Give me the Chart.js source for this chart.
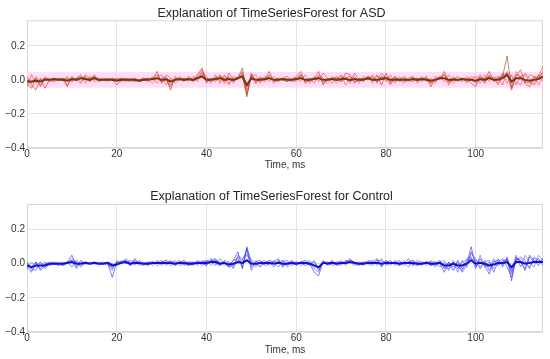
<!DOCTYPE html>
<html>
<head>
<meta charset="utf-8">
<script src="https://cdn.jsdelivr.net/npm/chart.js@4.4.0/dist/chart.umd.min.js"></script>
<style>
  html, body { margin: 0; padding: 0; background: #fff; }
  canvas { display: block; }
</style>
</head>
<body>
<canvas id="asdChart" width="550" height="179"></canvas>
<canvas id="ctlChart" width="550" height="180"></canvas>
<script>
// time axis, one sample per ms
const timeMs = Array.from({ length: 116 }, (_, i) => i);
const xTicks = [0, 20, 40, 60, 80, 100];
const yTicks = [-0.4, -0.2, 0.0, 0.2];
const asdBand = [0.046, -0.046];

// ASD explanations (red), thin brown one and mean
const asdRed1 = [
  0, -.03, -.06, .01, -.05, 0, .01, 0, 0, -.04,
  .02, 0, .01, .02, -.01, .03, 0, 0, .01, 0,
  -.03, 0, .01, 0, 0, -.01, 0, .01, 0, .05,
  -.02, .01, -.06, .02, 0, .01, 0, 0, .03, .07,
  -.01, 0, .01, .03, -.02, .04, 0, .01, .03, -.1,
  .04, -.02, .01, 0, .05, -.01, 0, .01, 0, 0,
  .02, .05, -.02, 0, .01, .05, -.03, .01, 0, .02,
  -.01, .04, .03, -.02, .01, 0, .02, -.01, .03, -.03,
  .04, -.02, .01, 0, .02, 0, -.01, .01, 0, .02,
  -.04, .01, 0, .05, -.01, 0, .02, 0, .01, -.02,
  -.04, .02, 0, .05, -.01, .01, .03, .04, -.06, .02,
  .06, -.02, -.04, .01, .02, .08
];
const asdRed2 = [
  .02, -.02, .01, -.03, .02, 0, -.01, .01, 0, .02,
  -.01, .01, .03, -.02, .02, 0, .01, 0, 0, .01,
  0, -.01, 0, .01, 0, 0, .01, 0, -.02, .02,
  .03, -.03, .01, -.01, .02, 0, 0, .01, -.01, .05,
  .02, -.02, .02, -.01, .03, -.02, .01, 0, .05, -.06,
  .02, .03, -.02, .01, -.01, .02, 0, 0, .01, -.01,
  0, .02, -.01, .01, -.02, .03, .01, -.02, .02, 0,
  .03, -.03, .01, .02, -.01, .01, 0, .03, -.02, .02,
  -.01, .03, -.02, .01, 0, -.01, .01, 0, .02, -.01,
  .01, -.02, .02, -.01, .03, -.02, 0, .01, 0, .02,
  .01, -.02, .03, -.01, .02, -.03, .04, -.02, .03, -.01,
  -.03, .04, .01, -.02, .03, -.01
];
const asdRed3 = [
  -.04, .03, -.02, 0, .01, -.01, 0, 0, .01, -.03,
  .01, 0, -.02, .03, .01, -.01, 0, .01, 0, 0,
  .01, 0, 0, -.01, .01, 0, 0, -.01, .02, -.02,
  .01, .02, -.03, 0, .01, -.01, .02, 0, .02, .06,
  -.02, .01, 0, .02, .01, -.03, .02, .01, .02, -.08,
  .03, 0, -.01, .02, .01, 0, -.01, .01, .02, 0,
  -.01, .03, 0, -.01, .02, -.01, .04, .01, -.02, .01,
  .02, .01, -.02, .04, 0, -.01, .02, .01, -.01, .04,
  .01, -.03, .02, 0, -.02, .01, .02, -.01, .01, 0,
  -.02, .02, .01, .03, -.03, .01, 0, -.01, .02, 0,
  .02, .01, -.02, .03, .01, .02, -.03, .05, .02, -.03,
  .02, .03, -.01, -.03, .01, .04
];
const asdRed4 = [
  .01, -.02, .02, -.01, 0, .01, -.01, 0, .01, 0,
  0, .01, -.01, .02, -.01, .02, 0, 0, -.01, .01,
  0, .01, -.01, 0, .01, -.01, 0, .01, 0, .01,
  -.01, .03, .01, -.02, 0, .01, -.01, .02, .01, .03,
  .01, -.01, .03, -.02, .02, .01, -.02, .02, .04, -.04,
  .01, -.02, .02, 0, .02, -.02, .01, 0, -.01, .01,
  .01, -.01, .03, -.02, .01, .02, -.01, 0, .01, -.02,
  .01, .02, -.01, .01, -.02, .02, .01, -.02, .02, .01,
  .02, .01, -.01, .02, -.01, 0, .02, -.02, .01, .01,
  0, -.01, .02, .01, -.02, .02, -.01, .01, -.02, .01,
  -.01, .03, -.02, .02, 0, -.02, .02, .03, -.04, .05,
  .01, -.02, .03, .02, -.03, .02
];
const asdBrown = [
  -.02, -.05, .01, -.04, .01, 0, 0, .01, 0, .01,
  -.01, .01, .02, 0, .01, .02, -.01, 0, 0, 0,
  0, .01, 0, 0, -.01, 0, .01, 0, .01, .03,
  -.01, 0, -.04, .01, 0, 0, .01, -.01, .01, .04,
  0, .01, -.01, .02, 0, .02, -.01, .01, .07, -.09,
  .02, 0, .01, -.01, .03, 0, .01, 0, -.01, 0,
  .01, .03, -.01, .01, 0, .02, -.02, 0, .01, .01,
  -.01, .01, .02, -.01, 0, .01, 0, .02, -.01, .02,
  .01, -.01, .02, -.01, .01, 0, 0, .01, -.01, .01,
  -.02, 0, .01, .03, -.01, .01, 0, .01, -.01, 0,
  -.02, 0, .01, .02, 0, .01, .02, .14, -.05, .03,
  .02, -.01, -.02, .02, .01, .05
];
const asdMean = [
  -.01, -.01, -.005, -.01, 0, 0, .005, 0, 0, -.005,
  .005, 0, .01, .005, 0, .01, 0, 0, 0, 0,
  -.005, 0, 0, 0, 0, -.005, 0, 0, .005, .01,
  0, .005, -.01, 0, .005, 0, .005, 0, .01, .02,
  0, 0, .005, .01, 0, .005, 0, .01, .02, -.03,
  .01, 0, 0, .005, .01, 0, 0, .005, 0, 0,
  .005, .01, 0, 0, .005, .01, 0, 0, .005, 0,
  .005, .005, 0, .005, 0, 0, .01, 0, 0, .005,
  .01, 0, 0, 0, 0, 0, .005, 0, .005, 0,
  -.005, 0, .01, .01, 0, 0, 0, .005, 0, 0,
  -.005, .005, 0, .01, 0, 0, .01, .03, -.01, .01,
  .01, 0, -.005, 0, .005, .02
];

// Control explanations (blue) and mean
const ctlBlue1 = [
  -.02, -.05, .01, -.04, -.01, 0, .01, 0, -.01, .01,
  .05, -.02, .02, 0, 0, 0, 0, .01, 0, -.08,
  .01, .01, .02, -.01, .03, 0, 0, -.01, .01, 0,
  .01, 0, .02, -.01, .01, 0, -.01, .01, 0, .01,
  -.01, .02, .03, -.01, .01, -.02, .02, .07, -.03, .1,
  -.02, .01, .02, -.01, 0, .01, .03, -.02, .01, 0,
  0, .01, -.01, 0, -.05, -.07, .01, 0, .01, 0,
  0, .01, .03, 0, .01, 0, 0, .01, .03, -.02,
  .02, 0, .01, -.01, 0, .03, -.01, .01, 0, .01,
  -.01, .01, 0, -.05, .01, -.04, .02, -.03, 0, .1,
  -.02, .03, -.01, -.06, .01, .02, -.01, .03, -.1, .04,
  .01, -.03, .05, .02, -.01, .03
];
const ctlBlue2 = [
  .01, -.03, -.04, .01, -.03, 0, 0, .01, -.01, 0,
  .03, .01, -.02, .01, 0, 0, .01, 0, 0, -.03,
  .01, 0, .03, .01, -.01, .02, 0, .01, -.01, .01,
  .02, -.01, .01, .01, 0, .02, -.01, 0, .01, -.01,
  .02, .01, -.01, .03, 0, -.02, -.01, .04, .02, .08,
  -.04, .02, -.01, 0, .02, .01, -.02, .02, -.01, .01,
  .01, 0, 0, .01, -.03, -.05, .02, -.01, 0, .01,
  .01, 0, .01, -.01, 0, .01, 0, -.01, .02, .02,
  -.01, .01, 0, .02, -.01, .01, 0, -.01, .01, 0,
  .01, -.02, .01, -.02, -.03, .01, -.05, .02, -.02, .06,
  .03, -.02, .02, -.04, .02, -.01, .02, .02, -.06, .02,
  .04, .02, -.03, .04, .02, .01
];
const ctlBlue3 = [
  -.03, .01, -.02, -.01, .01, -.01, 0, 0, 0, .01,
  .02, -.03, .01, 0, .01, 0, 0, 0, .01, 0,
  -.01, .02, 0, .02, .01, -.01, .01, 0, 0, .02,
  -.01, .01, 0, .02, -.01, 0, .01, .01, -.01, .02,
  .01, .03, 0, -.01, .02, .01, -.03, .05, .03, .06,
  .01, -.01, .01, .02, -.01, .02, 0, .01, .02, -.01,
  0, .01, .01, -.01, .02, -.03, 0, .01, -.01, 0,
  .02, -.01, .02, .01, 0, 0, .01, .02, -.01, .03,
  0, -.01, .02, 0, .01, -.02, .02, 0, -.01, .01,
  .01, .01, -.02, .01, -.04, .02, -.02, -.04, .03, .04,
  -.03, .05, -.02, .01, -.03, .03, -.02, .04, -.04, .05,
  -.02, .05, .01, -.02, .05, .02
];
const ctlBlue4 = [
  0, -.02, .01, -.03, 0, .01, 0, -.01, 0, .01,
  -.02, .02, 0, .01, 0, .01, 0, 0, 0, -.02,
  0, .01, .01, -.01, .02, 0, -.01, .01, .01, 0,
  .01, .02, -.01, 0, .02, -.01, .01, 0, .02, 0,
  -.01, .02, .02, 0, .01, -.01, .02, .03, -.02, .09,
  .02, 0, -.02, .01, .01, -.02, .02, -.01, 0, .02,
  -.01, .01, .02, 0, .01, -.04, .01, 0, .02, -.01,
  0, .02, .01, 0, -.01, .01, .01, 0, .02, -.01,
  .01, .02, -.01, .01, 0, .01, .02, -.01, 0, .01,
  -.01, 0, .02, -.03, .01, -.02, .01, -.05, -.01, .07,
  .01, -.03, .01, .02, -.05, .01, .03, -.02, -.08, .03,
  .02, -.04, .04, .01, .03, -.01
];
const ctlBlue5 = [
  .01, -.04, -.01, .01, -.02, 0, 0, 0, .01, 0,
  .02, .01, -.01, 0, 0, .01, 0, 0, 0, -.04,
  .02, 0, .02, 0, .01, .01, 0, 0, .01, -.01,
  0, .02, .01, -.01, .01, .02, 0, -.01, .01, .01,
  .02, -.01, .02, .01, -.01, .01, -.02, .02, .01, .05,
  .01, -.02, .01, 0, .02, 0, .01, .02, -.02, 0,
  .01, -.01, 0, .02, -.02, -.02, .01, .01, 0, .01,
  -.01, .01, .02, .01, 0, -.01, .02, .01, 0, .01,
  .01, 0, .01, -.01, .02, 0, -.01, .02, .01, -.01,
  .02, -.01, .01, .02, -.02, .01, -.03, .01, .02, .03,
  .02, .01, -.01, -.02, .03, -.01, .01, .03, -.05, .02,
  .03, .01, -.02, .03, .01, .03
];
const ctlMean = [
  -.01, -.02, -.01, -.01, -.01, 0, 0, 0, 0, .005,
  .01, 0, 0, .005, 0, .005, 0, 0, .005, -.01,
  -.005, .005, .01, 0, .005, .005, 0, 0, .005, .005,
  .005, .005, .005, 0, .005, .005, 0, 0, .005, .005,
  .005, .01, .01, 0, .005, -.005, 0, .01, .005, .02,
  0, 0, .005, .005, .005, 0, .005, 0, 0, .005,
  0, .005, .005, 0, -.01, -.02, .005, 0, .005, 0,
  .005, .005, .01, .005, 0, 0, .005, .005, .005, 0,
  .005, .005, .005, 0, .005, .005, .005, 0, 0, .005,
  0, 0, .005, -.01, -.01, 0, -.01, -.01, 0, .02,
  0, .005, 0, -.01, -.005, .005, .005, .01, -.02, .01,
  .01, 0, .005, .01, .01, .01
];

const FONT = "'Liberation Sans', Arial, sans-serif";
const GRID = '#e3e3e3';

const framePlugin = {
  id: 'frame',
  beforeDatasetsDraw(chart) {
    const { ctx, chartArea: a } = chart;
    ctx.save();
    ctx.strokeStyle = '#d8d8d8';
    ctx.lineWidth = 1;
    ctx.strokeRect(a.left + 0.5, a.top + 0.5, a.width - 1, a.height - 1);
    ctx.restore();
  }
};

function pts(values) {
  return values.map((v, i) => ({ x: timeMs[i], y: v }));
}

function line(values, color, width, order) {
  return {
    data: pts(values),
    borderColor: color,
    borderWidth: width,
    pointRadius: 0,
    tension: 0,
    fill: false,
    order: order
  };
}

function makeChart(id, title, datasets, lay) {
  return new Chart(document.getElementById(id), {
    type: 'line',
    data: { datasets: datasets },
    plugins: [framePlugin],
    options: {
      responsive: false,
      animation: false,
      layout: { padding: { left: 0, right: 7, top: 0, bottom: 0 } },
      plugins: {
        legend: { display: false },
        tooltip: { enabled: false },
        title: {
          display: true,
          text: title,
          color: '#262626',
          font: { family: FONT, size: 12.5, weight: 'normal', lineHeight: 1 },
          padding: { top: lay.titleTop, bottom: lay.titleBottom }
        }
      },
      scales: {
        x: {
          type: 'linear',
          min: 0,
          max: 115,
          afterBuildTicks: s => { s.ticks = xTicks.map(v => ({ value: v })); },
          afterFit: s => { s.height = lay.xHeight; },
          ticks: {
            color: '#333',
            font: { family: FONT, size: 10 },
            padding: 0,
            maxRotation: 0,
            callback: v => String(v)
          },
          grid: { color: GRID, drawTicks: false },
          border: { display: false },
          title: {
            display: true,
            text: 'Time, ms',
            color: '#333',
            font: { family: FONT, size: 10 },
            padding: { top: 0, bottom: lay.xTitleBottom }
          }
        },
        y: {
          min: -0.4,
          max: 0.35,
          afterBuildTicks: s => { s.ticks = yTicks.map(v => ({ value: v })); },
          afterFit: s => { s.width = 27; },
          ticks: {
            color: '#333',
            font: { family: FONT, size: 10 },
            padding: 2,
            callback: v => (v < 0 ? '\u2212' : '') + Math.abs(v).toFixed(1)
          },
          grid: { color: GRID, drawTicks: false },
          border: { display: false }
        }
      }
    }
  });
}

// top: ASD
makeChart('asdChart', 'Explanation of TimeSeriesForest for ASD', [
  {
    data: [{ x: 0, y: asdBand[0] }, { x: 115, y: asdBand[0] }],
    borderWidth: 0, pointRadius: 0, fill: '+1',
    backgroundColor: 'rgba(255, 200, 240, 0.6)', order: 10
  },
  {
    data: [{ x: 0, y: asdBand[1] }, { x: 115, y: asdBand[1] }],
    borderWidth: 0, pointRadius: 0, fill: false, order: 10
  },
  line(asdRed1, 'rgba(245, 10, 10, 0.7)', 0.8, 5),
  line(asdRed2, 'rgba(250, 30, 30, 0.6)', 0.8, 5),
  line(asdRed3, 'rgba(240, 20, 20, 0.6)', 0.8, 5),
  line(asdRed4, 'rgba(210, 50, 30, 0.55)', 0.8, 5),
  line(asdBrown, 'rgba(150, 90, 45, 0.75)', 0.9, 4),
  line(asdMean, '#6e3a10', 2, 1)
], { titleTop: 7.75, titleBottom: 0, xHeight: 31, xTitleBottom: 8 });

// bottom: Control
makeChart('ctlChart', 'Explanation of TimeSeriesForest for Control', [
  line(ctlBlue1, 'rgba(30, 30, 230, 0.7)', 0.8, 5),
  line(ctlBlue2, 'rgba(40, 40, 240, 0.6)', 0.8, 5),
  line(ctlBlue3, 'rgba(50, 50, 235, 0.6)', 0.8, 5),
  line(ctlBlue4, 'rgba(30, 30, 220, 0.65)', 0.8, 5),
  line(ctlBlue5, 'rgba(60, 60, 240, 0.55)', 0.8, 5),
  line(ctlMean, '#1010d0', 2, 1)
], { titleTop: 11.75, titleBottom: 0.75, xHeight: 27, xTitleBottom: 3 });
</script>
</body>
</html>
